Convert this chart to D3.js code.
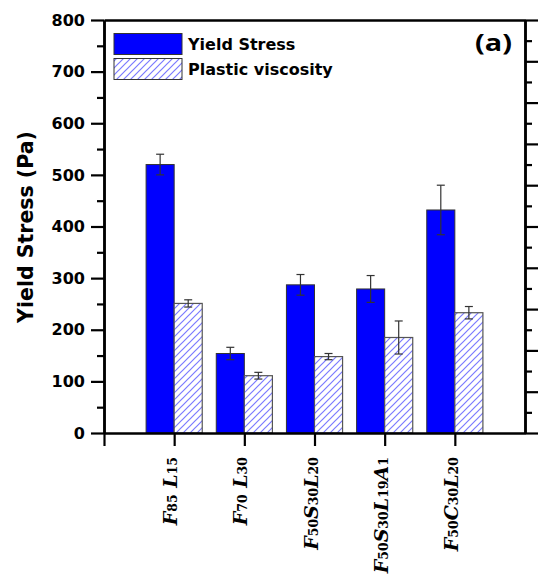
<!DOCTYPE html>
<html>
<head>
<meta charset="utf-8">
<script src="https://cdn.jsdelivr.net/npm/d3@7"></script>
<style>
  body { margin: 0; background: #fff; }
  svg { display: block; }
</style>
</head>
<body>
<div id="chart"></div>
<script>
const labels = ["F_{85} L_{15}", "F_{70} L_{30}", "F_{50}S_{30}L_{20}", "F_{50}S_{30}L_{19}A_{1}", "F_{50}C_{30}L_{20}"];
const yieldStress = [520, 154, 287, 279, 432];
const yieldErr = [20, 12, 20, 26, 48];
const plasticVisc = [251, 111, 148, 185, 233];
const viscErr = [7, 6.5, 6, 32, 12];
const yTicks = [0, 100, 200, 300, 400, 500, 600, 700, 800];
const legendNames = ["Yield Stress", "Plastic viscosity"];

const width = 538, height = 577;
const plotL = 104, plotR = 525, plotT = 20, plotB = 433;

const svg = d3.select("#chart").append("svg")
    .attr("width", width)
    .attr("height", height);

const defs = svg.append("defs");
const pat = defs.append("pattern")
    .attr("id", "hatch")
    .attr("patternUnits", "userSpaceOnUse")
    .attr("width", 7)
    .attr("height", 7);
pat.append("rect").attr("width", 7).attr("height", 7).attr("fill", "#fff");
pat.append("path")
    .attr("d", "M-1,1 l2,-2 M0,7 l7,-7 M6,8 l2,-2")
    .attr("stroke", "#7a7aff")
    .attr("stroke-width", 1.2);

const x = d3.scaleLinear().domain([0, 6]).range([plotL, plotR]);
const y = d3.scaleLinear().domain([0, 800]).range([plotB, plotT]);
const yR = d3.scaleLinear().domain([0, 10]).range([plotB, plotT]);
const bw = 0.4;

// bars
const g = svg.append("g");
g.selectAll(".ys")
    .data(yieldStress)
    .enter()
    .append("rect")
    .attr("x", (d, i) => x(i + 1 - bw))
    .attr("y", d => y(d))
    .attr("width", x(bw) - x(0))
    .attr("height", d => y(0) - y(d))
    .attr("fill", "#0000ff")
    .attr("stroke", "#333")
    .attr("stroke-width", 1);

g.selectAll(".pv")
    .data(plasticVisc)
    .enter()
    .append("rect")
    .attr("x", (d, i) => x(i + 1))
    .attr("y", d => y(d))
    .attr("width", x(bw) - x(0))
    .attr("height", d => y(0) - y(d))
    .attr("fill", "url(#hatch)")
    .attr("stroke", "#555")
    .attr("stroke-width", 1.2);

// error bars
function errBars(vals, errs, off) {
    const eg = g.append("g").attr("stroke", "#333").attr("stroke-width", 1.2);
    vals.forEach((v, i) => {
        const cx = x(i + 1 + off);
        eg.append("line").attr("x1", cx).attr("x2", cx).attr("y1", y(v + errs[i])).attr("y2", y(v - errs[i]));
        eg.append("line").attr("x1", cx - 4).attr("x2", cx + 4).attr("y1", y(v + errs[i])).attr("y2", y(v + errs[i]));
        eg.append("line").attr("x1", cx - 4).attr("x2", cx + 4).attr("y1", y(v - errs[i])).attr("y2", y(v - errs[i]));
    });
}
errBars(yieldStress, yieldErr, -bw / 2);
errBars(plasticVisc, viscErr, bw / 2);

// axes
function styleAxis(sel) {
    sel.select(".domain").attr("stroke", "#000").attr("stroke-width", 2.5);
    sel.selectAll(".tick line").attr("stroke", "#000").attr("stroke-width", 2.2);
}

svg.append("g")
    .attr("transform", `translate(${plotL},0)`)
    .call(d3.axisLeft(y).tickValues(d3.range(50, 800, 100)).tickSize(7).tickSizeOuter(0).tickFormat(""))
    .call(styleAxis);

svg.append("g")
    .attr("transform", `translate(${plotL},0)`)
    .call(d3.axisLeft(y).tickValues(yTicks).tickSize(13).tickSizeOuter(0).tickPadding(6))
    .call(styleAxis)
    .call(s => s.selectAll("text")
        .attr("font-family", "'DejaVu Sans', sans-serif")
        .attr("font-weight", "bold")
        .attr("font-size", 16)
        .attr("fill", "#000"));

svg.append("g")
    .attr("transform", `translate(${plotR},0)`)
    .call(d3.axisRight(yR).tickValues(d3.range(0.5, 10, 1)).tickSize(7).tickSizeOuter(0).tickFormat(""))
    .call(styleAxis);

svg.append("g")
    .attr("transform", `translate(${plotR},0)`)
    .call(d3.axisRight(yR).tickValues(d3.range(0, 11, 1)).tickSize(13).tickSizeOuter(0).tickFormat(""))
    .call(styleAxis);

svg.append("g")
    .attr("transform", `translate(0,${plotT})`)
    .call(d3.axisTop(x).tickValues([]).tickSizeOuter(0))
    .call(styleAxis);

svg.append("g")
    .attr("transform", `translate(0,${plotB})`)
    .call(d3.axisBottom(x).tickValues([0, 1, 2, 3, 4, 5]).tickSize(13).tickSizeOuter(0).tickFormat(""))
    .call(styleAxis);

// category labels with subscripts
labels.forEach((lab, i) => {
    const t = svg.append("text")
        .attr("transform", `translate(${x(i + 1) + 3},${plotB + 24}) rotate(-90)`)
        .attr("text-anchor", "end")
        .attr("font-family", "'DejaVu Serif', serif")
        .attr("font-weight", "bold")
        .attr("fill", "#000");
    const parts = lab.match(/[A-Z ]+|_\{\d+\}/g);
    parts.forEach(p => {
        if (p.startsWith("_")) {
            t.append("tspan")
                .attr("font-size", 12.5)
                .attr("font-style", "normal")
                .text(p.slice(2, -1));
        } else {
            t.append("tspan")
                .attr("font-size", 19)
                .attr("font-style", "italic")
                .text(p);
        }
    });
});

// y title
svg.append("text")
    .attr("transform", `translate(33,227) rotate(-90)`)
    .attr("text-anchor", "middle")
    .attr("font-family", "'DejaVu Sans', sans-serif")
    .attr("font-weight", "bold")
    .attr("font-size", 20.5)
    .text("Yield Stress (Pa)");

// panel tag
svg.append("text")
    .attr("transform", "translate(512,51) scale(1.2,1)")
    .attr("text-anchor", "end")
    .attr("font-family", "'Open Sans', sans-serif")
    .attr("font-weight", "bold")
    .attr("font-size", 24)
    .text("(a)");

// legend
const leg = svg.append("g");
const fills = ["#0000ff", "url(#hatch)"];
legendNames.forEach((name, i) => {
    leg.append("rect")
        .attr("x", 114).attr("y", 33.5 + i * 25)
        .attr("width", 68).attr("height", 21)
        .attr("fill", fills[i])
        .attr("stroke", "#333")
        .attr("stroke-width", 1);
    leg.append("text")
        .attr("x", 188).attr("y", 50 + i * 25)
        .attr("font-family", "'DejaVu Sans', sans-serif")
        .attr("font-weight", "bold")
        .attr("font-size", 16)
        .text(name);
});
</script>
</body>
</html>
